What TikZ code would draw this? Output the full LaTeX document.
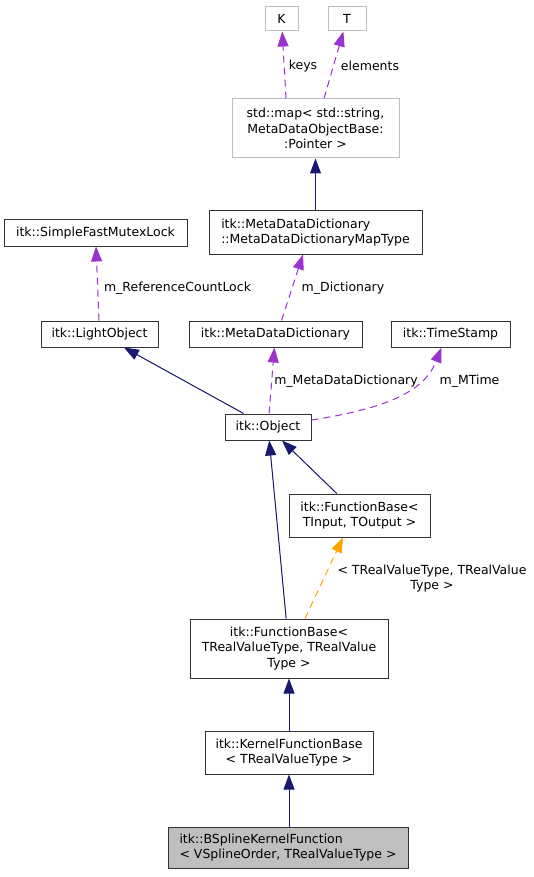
\documentclass[tikz,border=0pt]{standalone}
\usepackage{fontspec}
\setmainfont{DejaVu Sans}
\usetikzlibrary{arrows.meta,calc}
\definecolor{edgenavy}{HTML}{191970}
\definecolor{edgepurple}{HTML}{9A32CD}
\definecolor{edgeorange}{HTML}{FFA500}

\begin{document}
\begin{tikzpicture}[x=1pt,y=-1pt,
	cls/.style={draw=black!80,line width=1pt,inner sep=0pt,align=center,font=\fontsize{12.5}{15.5}\selectfont},
	ext/.style={cls,draw=black!25},
	lbl/.style={inner sep=0pt,align=center,font=\fontsize{12.5}{15.5}\selectfont},
	inh/.style={draw=edgenavy,line width=1pt,-{Triangle[length=15pt,width=11pt]},fill=edgenavy},
	usg/.style={draw=edgepurple,line width=1pt,dash pattern=on 7pt off 5pt,-{Triangle[length=15pt,width=11pt,fill=edgepurple]}},
	tpl/.style={draw=edgeorange,line width=1pt,dash pattern=on 7pt off 5pt,-{Triangle[length=15pt,width=11pt,fill=edgeorange]}}]
		\useasboundingbox (0,0) rectangle (533,877);
		
		\node[ext,minimum width=33,minimum height=24] (K) at (281.5,19) {K};
		\node[ext,minimum width=38,minimum height=24] (T) at (347,19) {T};
		\node[ext,minimum width=167,minimum height=59] (map) at (315.5,128.5) {std::map< std::string,\\ MetaDataObjectBase:\\:Pointer >};
		\node[cls,align=left,minimum width=213,minimum height=43] (maptype) at (315.5,232.5) {itk::MetaDataDictionary\\::MetaDataDictionaryMapType};
		
		\node[cls,minimum width=183,minimum height=26] (mutex) at (95.5,233) {itk::SimpleFastMutexLock};
		\node[cls,minimum width=117,minimum height=26] (light) at (99.5,334) {itk::LightObject};
		\node[cls,minimum width=173,minimum height=26] (mdd) at (275.5,334) {itk::MetaDataDictionary};
		\node[cls,minimum width=119,minimum height=26] (stamp) at (450.5,334) {itk::TimeStamp};
		\node[cls,minimum width=86,minimum height=26] (obj) at (268,427) {itk::Object};
		
		\node[cls,minimum width=141,minimum height=43] (fbin) at (359.5,515.5) {itk::FunctionBase<\\TInput, TOutput >};
		\node[cls,minimum width=198,minimum height=59] (fbreal) at (289,648.5) {itk::FunctionBase<\\ TRealValueType, TRealValue\\Type >};
		\node[cls,minimum width=168,minimum height=43] (kern) at (289,752.5) {itk::KernelFunctionBase\\< TRealValueType >};
		\node[cls,fill=black!25,align=left,minimum width=240,minimum height=41] (bspline) at (288,847.5) {itk::BSplineKernelFunction\\< VSplineOrder, TRealValueType >};
		
		% member labels
		\node[lbl] (lkeys) at (303,66) {keys};
		\node[lbl] (lelem) at (370,66) {elements};
		\node[lbl] (llock) at (177.5,288) {m\_ReferenceCountLock};
		\node[lbl] (ldict) at (343,288) {m\_Dictionary};
		\node[lbl] (lmdd) at (346,381) {m\_MetaDataDictionary};
		\node[lbl] (ltime) at (469.5,381) {m\_MTime};
		\node[lbl] (ltpl) at (432,578.5) {< TRealValueType, TRealValue\\Type >};
		
		% inheritance
		\draw[inh] (maptype) -- (map);
		\draw[inh] (obj) -- (light);
		\draw[inh] (fbin) -- (obj);
		\draw[inh] (fbreal) -- (obj);
		\draw[inh] (kern) -- (fbreal);
		\draw[inh] (bspline.north -| kern) -- (kern);
		
		% usage
		\draw[usg] ($(map.north)+(-29.5,0)$) -- (K);
		\draw[usg] ($(map.north)+(8.5,0)$) -- (T);
		\draw[usg] (light) -- (mutex);
		\draw[usg] ($(mdd.north)+(6,0)$) -- ($(maptype.south)+(-12.5,0)$);
		\draw[usg] (obj) -- (mdd);
		\draw[usg] ($(obj.east)+(0,-7)$) .. controls (390,408) and (425,390) .. ($(stamp.south)+(-9,0)$);
		
		% template instance
		\draw[tpl] ($(fbreal.north)+(16,0)$) -- ($(fbin.south)+(-16.5,0)$);
		
	\end{tikzpicture}
\end{document}
